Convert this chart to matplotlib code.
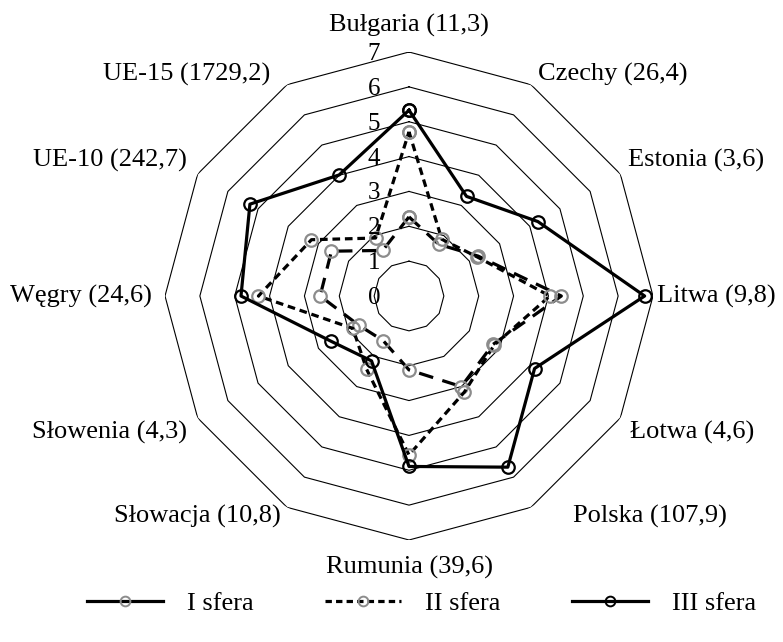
import numpy as np
import matplotlib
matplotlib.use("Agg")
import matplotlib.pyplot as plt
from matplotlib.lines import Line2D

categories = ["Bułgaria (11,3)", "Czechy (26,4)", "Estonia (3,6)", "Litwa (9,8)",
              "Łotwa (4,6)", "Polska (107,9)", "Rumunia (39,6)", "Słowacja (10,8)",
              "Słowenia (4,3)", "Węgry (24,6)", "UE-10 (242,7)", "UE-15 (1729,2)"]
sfera_I = [2.27, 1.71, 2.29, 4.37, 2.78, 3.00, 2.12, 1.48, 1.67, 2.55, 2.57, 1.51]
sfera_II = [4.71, 1.88, 2.25, 4.04, 2.82, 3.18, 4.56, 2.43, 1.86, 4.32, 3.23, 1.92]
sfera_III = [5.33, 3.30, 4.27, 6.76, 4.16, 5.67, 4.89, 2.15, 2.59, 4.82, 5.27, 4.01]
series_names = ["I sfera", "II sfera", "III sfera"]
ring_values = [0, 1, 2, 3, 4, 5, 6, 7]

plt.rcParams['font.family'] = ['Liberation Serif', 'DejaVu Serif']

W, H = 783, 642
fig = plt.figure(figsize=(W / 100, H / 100), dpi=100)
cx, cy, R = 409, 296, 244
ax = fig.add_axes([(cx - R) / W, (H - cy - R) / H, 2 * R / W, 2 * R / H], polar=True)
ax.set_theta_zero_location('N')
ax.set_theta_direction(-1)
ax.set_ylim(0, 7)
ax.grid(False)
ax.spines['polar'].set_visible(False)
ax.set_xticks([])
ax.set_yticks([])
ax.patch.set_alpha(0)

n = len(categories)
theta = np.arange(n) * 2 * np.pi / n
theta_c = np.append(theta, theta[0])

# polygon gridlines
for rv in ring_values[1:]:
    ax.plot(theta_c, [rv] * (n + 1), color='black', lw=0.8, zorder=1)

grey = '#8c8c8c'
lw = 2.3
def closed(v):
    return list(v) + [v[0]]

ax.plot(theta_c, closed(sfera_I), color='black', lw=lw, linestyle=(0, (4.6, 3.0)),
        marker='o', ms=9, mfc='none', mec=grey, mew=1.6, zorder=3)
ax.plot(theta_c, closed(sfera_II), color='black', lw=lw, linestyle=(0, (2.4, 1.5)),
        marker='o', ms=9, mfc='none', mec=grey, mew=1.6, zorder=3)
ax.plot(theta_c, closed(sfera_III), color='black', lw=lw, linestyle='-',
        marker='o', ms=9, mfc='none', mec='black', mew=1.6, zorder=4)

# axis value labels
for rv in ring_values:
    ax.annotate(str(rv), xy=(0, rv), xytext=(-35, -2), textcoords='offset pixels',
                ha='center', va='center', fontsize=18)

# category labels (pixel offsets from outer vertex)
offs = [(0, 27, 'center'), (7, 10, 'left'), (8, 14, 'left'), (4, 0, 'left'),
        (10, -14, 'left'), (42, -9, 'left'), (0, -27, 'center'), (-6, -9, 'right'),
        (-11, -14, 'right'), (-13, 0, 'right'), (-11, 14, 'right'), (-17, 10, 'right')]
for t, lab, (dx, dy, ha) in zip(theta, categories, offs):
    ax.annotate(lab, xy=(t, 7), xytext=(dx, dy), textcoords='offset pixels',
                ha=ha, va='center', fontsize=19, annotation_clip=False)

handles = [
    Line2D([], [], color='black', lw=lw, linestyle='-', marker='o', ms=7, mfc='none', mec=grey, mew=1.4),
    Line2D([], [], color='black', lw=lw, linestyle=(0, (2.0, 1.3)), marker='o', ms=7, mfc='none', mec=grey, mew=1.4),
    Line2D([], [], color='black', lw=lw, linestyle='-', marker='o', ms=7, mfc='none', mec='black', mew=1.4),
]
fig.legend(handles, series_names, loc='center', bbox_to_anchor=(0.538, 1 - 603 / H),
           ncol=3, frameon=False, fontsize=19, handlelength=2.9, columnspacing=2.7,
           handletextpad=0.9)

fig.savefig('out.png', dpi=100)
